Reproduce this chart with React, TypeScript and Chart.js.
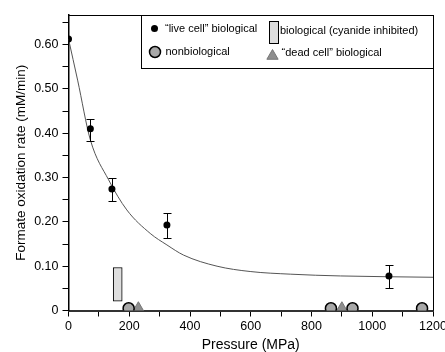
import React, { useEffect, useRef } from 'react';
import { Chart, registerables } from 'chart.js';

Chart.register(...registerables);

// ---- data ----
const livePressure = [0, 72, 143, 324, 1055];
const liveRate = [0.613, 0.41, 0.274, 0.193, 0.078];
const liveErrHigh: (number | null)[] = [null, 0.432, 0.298, 0.22, 0.103];
const liveErrLow: (number | null)[] = [null, 0.383, 0.248, 0.163, 0.05];

const nonbioPressure = [198, 864, 935, 1164];
const nonbioRate = [0.005, 0.005, 0.005, 0.005];

const deadPressure = [230, 900];
const deadRate = [0.004, 0.004];

const cyanidePressure = [162];
const cyanideLow = [0.021];
const cyanideHigh = [0.097];

const fitPressure = [0, 30, 72, 132, 192, 269, 324, 379, 489, 598, 730, 895, 1200];
const fitRate = [0.613, 0.52, 0.385, 0.295, 0.227, 0.174, 0.148, 0.125, 0.1, 0.088, 0.082, 0.078, 0.075];

const xMin = 0;
const xMax = 1200;
const xStep = 100;
const xLabelEvery = 200;
const yMin = 0;
const yMax = 0.667;
const yTickValues = [0, 0.05, 0.1, 0.15, 0.2, 0.25, 0.3, 0.35, 0.4, 0.45, 0.5, 0.55, 0.6, 0.65];
const yTickLabels = ['0', '', '0.10', '', '0.20', '', '0.30', '', '0.40', '', '0.50', '', '0.60', ''];

const legendLabels = [
  '\u201Clive cell\u201D biological',
  'nonbiological',
  'biological (cyanide inhibited)',
  '\u201Cdead cell\u201D biological',
];

const xTitle = 'Pressure (MPa)';
const yTitle = 'Formate oxidation rate (mM/min)';

const FONT = "'Liberation Sans', Arial, Helvetica, sans-serif";

const NONBIO_FILL = '#a8a8a8';
const DEAD_FILL = '#8e8e8e';
const CYAN_FILL = '#dedede';

function drawTriangle(ctx: CanvasRenderingContext2D, x: number, y: number, r: number) {
  ctx.beginPath();
  let rad = 0;
  ctx.moveTo(x + Math.sin(rad) * r, y - Math.cos(rad) * r);
  rad += (2 * Math.PI) / 3;
  ctx.lineTo(x + Math.sin(rad) * r, y - Math.cos(rad) * r);
  rad += (2 * Math.PI) / 3;
  ctx.lineTo(x + Math.sin(rad) * r, y - Math.cos(rad) * r);
  ctx.closePath();
}

const errorBarPlugin = {
  id: 'errorBars',
  afterDatasetsDraw(chart: any) {
    const { ctx, scales } = chart;
    const xs = scales.x;
    const ys = scales.y;
    ctx.save();
    ctx.strokeStyle = '#000';
    ctx.lineWidth = 1;
    for (let i = 0; i < livePressure.length; i++) {
      const hi = liveErrHigh[i];
      const lo = liveErrLow[i];
      if (hi == null || lo == null) continue;
      const x = Math.round(xs.getPixelForValue(livePressure[i])) + 0.5;
      const yh = Math.round(ys.getPixelForValue(hi)) + 0.5;
      const yl = Math.round(ys.getPixelForValue(lo)) + 0.5;
      ctx.beginPath();
      ctx.moveTo(x, yh);
      ctx.lineTo(x, yl);
      ctx.moveTo(x - 4, yh);
      ctx.lineTo(x + 4, yh);
      ctx.moveTo(x - 4, yl);
      ctx.lineTo(x + 4, yl);
      ctx.stroke();
    }
    ctx.restore();
  },
};

const framePlugin = {
  id: 'frameAndLegend',
  afterDraw(chart: any) {
    const { ctx, chartArea } = chart;
    const { left, right, top, bottom } = chartArea;
    ctx.save();
    // frame top & right
    ctx.strokeStyle = '#000';
    ctx.lineWidth = 1;
    ctx.beginPath();
    ctx.moveTo(left, Math.round(top) + 0.5);
    ctx.lineTo(Math.round(right) + 0.5, Math.round(top) + 0.5);
    ctx.lineTo(Math.round(right) + 0.5, bottom);
    ctx.stroke();

    // legend box
    const bx = Math.round(left + 72) + 0.5;
    const by = Math.round(top) + 0.5;
    const bw = Math.round(right) + 0.5 - bx;
    const bh = 53;
    ctx.fillStyle = '#fff';
    ctx.fillRect(bx, by, bw, bh);
    ctx.strokeRect(bx, by, bw, bh);

    ctx.font = `11px ${FONT}`;
    ctx.textBaseline = 'middle';
    ctx.textAlign = 'left';
    ctx.fillStyle = '#000';

    // row 1 col 1: live cell dot
    ctx.beginPath();
    ctx.arc(bx + 13, by + 13, 3.5, 0, Math.PI * 2);
    ctx.fillStyle = '#000';
    ctx.fill();
    ctx.fillText(legendLabels[0], bx + 23.5, by + 13);

    // row 2 col 1: nonbiological circle
    ctx.beginPath();
    ctx.arc(bx + 13.5, by + 36.5, 5.5, 0, Math.PI * 2);
    ctx.fillStyle = NONBIO_FILL;
    ctx.fill();
    ctx.lineWidth = 1.5;
    ctx.strokeStyle = '#000';
    ctx.stroke();
    ctx.fillStyle = '#000';
    ctx.fillText(legendLabels[1], bx + 24, by + 36);

    // col 2 row 1: cyanide rectangle
    ctx.lineWidth = 1;
    ctx.fillStyle = CYAN_FILL;
    ctx.fillRect(bx + 128, by + 6, 9, 22);
    ctx.strokeRect(bx + 128, by + 6, 9, 22);
    ctx.fillStyle = '#000';
    ctx.fillText(legendLabels[2], bx + 138.5, by + 15.5);

    // col 2 row 2: dead cell triangle
    drawTriangle(ctx, bx + 131, by + 40.5, 6.5);
    ctx.fillStyle = DEAD_FILL;
    ctx.fill();
    ctx.strokeStyle = '#777';
    ctx.stroke();
    ctx.fillStyle = '#000';
    ctx.fillText(legendLabels[3], bx + 140, by + 37.5);

    ctx.restore();
  },
};

export default function App() {
  const canvasRef = useRef<HTMLCanvasElement | null>(null);

  useEffect(() => {
    const canvas = canvasRef.current;
    if (!canvas) return;
    const chart = new Chart(canvas, {
      type: 'scatter',
      data: {
        datasets: [
          {
            type: 'scatter',
            label: legendLabels[0],
            data: livePressure.map((p, i) => ({ x: p, y: liveRate[i] })),
            backgroundColor: '#000',
            borderColor: '#000',
            pointRadius: 3.5,
            pointBorderWidth: 0,
            order: 1,
          },
          {
            type: 'scatter',
            label: legendLabels[1],
            data: nonbioPressure.map((p, i) => ({ x: p, y: nonbioRate[i] })),
            backgroundColor: NONBIO_FILL,
            borderColor: '#000',
            pointRadius: 5.5,
            pointBorderWidth: 1.5,
            order: 2,
          },
          {
            type: 'scatter',
            label: legendLabels[3],
            data: deadPressure.map((p, i) => ({ x: p, y: deadRate[i] })),
            backgroundColor: DEAD_FILL,
            borderColor: '#777',
            pointStyle: 'triangle',
            pointRadius: 7,
            pointBorderWidth: 1,
            order: 3,
          },
          {
            type: 'bar',
            label: legendLabels[2],
            data: cyanidePressure.map((p, i) => ({ x: p, y: [cyanideLow[i], cyanideHigh[i]] })) as any,
            backgroundColor: CYAN_FILL,
            borderColor: '#000',
            borderWidth: 1,
            borderSkipped: false,
            barThickness: 9,
            order: 4,
          } as any,
          {
            type: 'line',
            label: 'fit',
            data: fitPressure.map((p, i) => ({ x: p, y: fitRate[i] })),
            borderColor: '#555',
            borderWidth: 1,
            pointRadius: 0,
            showLine: true,
            fill: false,
            cubicInterpolationMode: 'monotone',
            order: 5,
          } as any,
        ],
      },
      options: {
        responsive: false,
        animation: false,
        devicePixelRatio: 1,
        layout: { padding: { left: 0, right: 12, top: 15, bottom: 0 } },
        plugins: {
          legend: { display: false },
          tooltip: { enabled: false },
        },
        scales: {
          x: {
            type: 'linear',
            min: xMin,
            max: xMax,
            offset: false,
            grid: { display: true, drawOnChartArea: false, drawTicks: true, tickLength: 6, color: '#000', offset: false },
            border: { display: true, color: '#333', width: 2 },
            ticks: {
              stepSize: xStep,
              autoSkip: false,
              maxRotation: 0,
              padding: 3,
              color: '#000',
              font: { family: FONT, size: 12.5 },
              callback: (v: any) => (Number(v) % xLabelEvery === 0 ? String(v) : ''),
            },
            title: {
              display: true,
              text: xTitle,
              color: '#000',
              font: { family: FONT, size: 14, lineHeight: 1 },
              padding: { top: 0, bottom: 0 },
            },
            afterFit: (s: any) => {
              s.height = 41.5;
              s.paddingLeft = 0;
              s.paddingRight = 0;
            },
          },
          y: {
            type: 'linear',
            min: yMin,
            max: yMax,
            grid: { display: true, drawOnChartArea: false, drawTicks: true, tickLength: 6, color: '#000' },
            border: { display: true, color: '#000', width: 1.5 },
            afterBuildTicks: (s: any) => {
              s.ticks = yTickValues.map((v) => ({ value: v }));
            },
            ticks: {
              autoSkip: false,
              padding: 4,
              color: '#000',
              font: { family: FONT, size: 12.5 },
              callback: (_v: any, i: number) => yTickLabels[i],
            },
            title: {
              display: true,
              text: yTitle,
              color: '#000',
              font: { family: FONT, size: 13.5, lineHeight: 1.2 },
              padding: { top: 13, bottom: 0 },
            },
            afterFit: (s: any) => {
              s.width = 68.5;
              s.paddingTop = 0;
              s.paddingBottom = 0;
            },
          },
        },
      } as any,
      plugins: [errorBarPlugin, framePlugin],
    });
    return () => chart.destroy();
  }, []);

  return (
    <div style={{ position: 'absolute', left: 0, top: 0, width: 445, height: 352, background: '#fff' }}>
      <canvas ref={canvasRef} width={445} height={352} style={{ width: 445, height: 352 }} />
    </div>
  );
}
